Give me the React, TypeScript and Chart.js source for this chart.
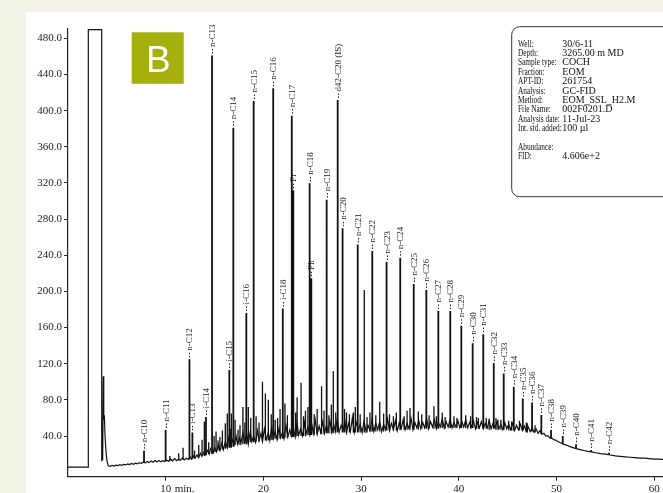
import { useEffect, useRef } from "react";
import { Chart, registerables } from "chart.js";

Chart.register(...registerables);

// ---------- data ----------
const xTicks = [10, 20, 30, 40, 50, 60];
const yTicks = [40, 80, 120, 160, 200, 240, 280, 320, 360, 400, 440, 480];
const xUnit = "min.";

// FID trace (time in min, abundance)
const signal: [number, number][] = [
  [0, 5.5], [2.08, 5.5], [2.08, 489.5], [3.45, 489.5], [3.45, 13], [3.55, 14], [3.61, 106], [3.66, 58],
  [3.72, 63], [3.8, 38], [3.9, 21], [4.0, 12], [4.12, 7],
  [4.3, 6.5], [4.5, 7.5], [4.7, 6.8], [4.9, 7.8], [5.1, 7.2], [5.3, 8.3], [5.5, 7.6], [5.7, 8.6], [5.9, 8],
  [6.1, 9.2], [6.3, 8.4], [6.5, 9.6], [6.7, 8.8], [6.9, 10], [7.1, 9.3], [7.3, 10.4], [7.5, 9.8], [7.7, 11],
  [7.9, 10.3], [8.1, 11.8], [8.3, 10.6], [8.5, 12.4], [8.7, 11], [8.9, 12.8], [9.1, 11.4], [9.3, 13],
  [9.5, 11.6], [9.7, 12.8], [9.9, 11.8], [10.1, 13.4], [10.3, 12], [10.5, 14.6], [10.7, 12.4], [10.9, 15.2],
  [11.1, 12.8], [11.3, 14.4], [11.5, 13.2], [11.7, 15.8], [11.9, 13.6], [12.1, 15.4], [12.3, 14],
  [12.5, 17], [12.65, 14.5], [12.85, 18], [13.0, 15.5], [13.2, 19], [13.35, 16], [13.55, 21], [13.7, 17.5],
  [13.9, 22], [14.05, 19], [14.3, 24], [14.45, 20], [14.6, 26], [14.85, 21], [15.0, 27], [15.2, 22.5],
  [15.4, 30], [15.55, 24], [15.75, 32], [15.9, 25], [16.1, 34], [16.3, 27], [16.45, 38], [16.65, 29],
  [16.8, 36], [17.0, 30], [17.2, 40], [17.35, 31], [17.55, 38], [17.7, 32], [17.9, 44], [18.05, 33],
  [18.3, 42], [18.45, 31], [18.65, 45], [18.8, 34], [19.0, 40], [19.2, 33], [19.4, 46], [19.55, 35],
  [19.75, 43], [19.9, 34], [20.1, 48], [20.3, 36], [20.5, 44], [20.65, 35], [20.85, 50], [21.0, 37],
  [21.2, 45], [21.4, 36], [21.6, 49], [21.75, 38], [21.95, 44], [22.1, 37], [22.3, 52], [22.5, 39],
  [22.7, 47], [22.85, 40], [23.05, 50], [23.25, 39], [23.45, 54], [23.6, 41], [23.8, 48], [24.0, 40],
  [24.2, 55], [24.35, 42], [24.55, 50], [24.75, 41], [24.95, 53], [25.1, 43], [25.3, 58], [25.5, 42],
  [25.7, 51], [25.85, 44], [26.05, 56], [26.25, 43], [26.45, 52], [26.6, 45], [26.8, 57], [27.0, 44],
  [27.2, 53], [27.35, 45], [27.55, 59], [27.75, 44], [27.95, 52], [28.15, 46], [28.35, 56], [28.5, 44],
  [28.7, 54], [28.9, 45], [29.1, 60], [29.3, 44], [29.5, 55], [29.7, 46], [29.9, 53], [30.1, 44],
  [30.3, 57], [30.5, 45], [30.7, 52], [30.9, 46], [31.1, 58], [31.3, 45], [31.5, 54], [31.7, 47],
  [31.9, 56], [32.1, 45], [32.3, 53], [32.5, 47], [32.7, 59], [32.9, 46], [33.1, 54], [33.3, 47],
  [33.5, 57], [33.7, 46], [33.9, 55], [34.1, 48], [34.3, 58], [34.5, 47], [34.7, 54], [34.9, 48],
  [35.1, 60], [35.3, 47], [35.5, 55], [35.7, 49], [35.9, 57], [36.1, 48], [36.3, 55], [36.5, 49],
  [36.7, 59], [36.9, 48], [37.1, 56], [37.3, 50], [37.5, 58], [37.7, 48], [37.9, 55], [38.1, 50],
  [38.3, 59], [38.5, 49], [38.7, 56], [38.9, 50], [39.1, 58], [39.3, 49], [39.5, 55], [39.7, 50],
  [39.9, 57], [40.1, 49], [40.3, 56], [40.5, 50], [40.7, 58], [40.9, 49], [41.1, 55], [41.3, 50],
  [41.5, 57], [41.7, 48], [41.9, 55], [42.1, 49], [42.3, 56], [42.5, 48], [42.7, 54], [42.9, 49],
  [43.1, 57], [43.3, 48], [43.5, 54], [43.7, 49], [43.9, 56], [44.1, 48], [44.3, 53], [44.5, 47],
  [44.7, 55], [44.9, 48], [45.1, 53], [45.3, 47], [45.5, 54], [45.7, 46], [45.9, 52], [46.1, 47],
  [46.3, 53], [46.5, 46], [46.7, 51], [46.9, 45], [47.1, 50], [47.3, 45], [47.5, 49], [47.7, 44],
  [47.9, 48], [48.1, 43], [48.3, 46], [48.5, 42], [48.7, 43], [48.9, 40], [49.1, 40.5], [49.3, 38],
  [49.5, 38], [49.7, 36], [49.9, 35.5], [50.1, 34], [50.4, 32.5], [50.7, 31], [51.0, 30], [51.3, 28.5],
  [51.6, 27.5], [52.0, 26], [52.4, 25], [52.8, 24], [53.2, 23], [53.6, 22.5], [54.0, 21.5], [54.5, 20.5],
  [55.0, 20], [55.5, 19], [56.0, 18], [56.5, 17.5], [57.0, 17], [57.5, 16.5], [58.0, 16], [58.5, 15.5],
  [59.0, 15.5], [59.5, 15], [60.0, 14.5], [60.5, 14.5], [61.0, 14],
];

// labelled peaks
const peakLabels = [
  "n-C10", "n-C11", "n-C12", "i-C13", "i-C14", "n-C13", "i-C15", "n-C14", "i-C16", "n-C15",
  "n-C16", "i-C18", "n-C17", "Pr", "n-C18", "Ph", "n-C19", "d42-C20 (IS)", "n-C20", "n-C21",
  "n-C22", "n-C23", "n-C24", "n-C25", "n-C26", "n-C27", "n-C28", "n-C29", "n-C30", "n-C31",
  "n-C32", "n-C33", "n-C34", "n-C35", "n-C36", "n-C37", "n-C38", "n-C39", "n-C40", "n-C41", "n-C42",
];
const peakTimes = [
  7.78, 9.99, 12.43, 12.73, 14.12, 14.74, 16.51, 16.92, 18.25, 19.0,
  21.0, 21.98, 22.9, 23.06, 24.73, 24.9, 26.47, 27.6, 28.1, 29.65,
  31.14, 32.6, 34.0, 35.38, 36.67, 37.9, 39.12, 40.25, 41.41, 42.5,
  43.57, 44.59, 45.62, 46.54, 47.49, 48.44, 49.43, 50.63, 51.99, 53.53, 55.37,
];
const peakHeights = [
  23.8, 46.7, 125, 44, 61, 461, 113, 381, 176, 410.6,
  424.7, 181, 394.4, 312, 319.6, 214.5, 301.5, 411.8, 269.8, 252,
  244.7, 232.5, 237.3, 208.2, 201.6, 178.3, 178.3, 162, 142.6, 152.7,
  120.7, 109.3, 94.6, 81.5, 77, 63.3, 46.7, 40, 31, 24.5, 21.5,
];
const peakBases = [
  11, 12, 14, 14.5, 19, 20, 27, 28, 31, 33,
  36, 37, 39, 39, 41, 41, 43, 44, 44, 44,
  45, 46, 47, 47, 48, 48, 49, 49, 49, 48,
  48, 47, 46, 46, 45, 42, 37, 31, 26, 22.5, 19.5,
];

// unlabelled peaks
const minorTimes = [
  10.42, 11.33, 11.78, 12.95, 13.38, 13.72, 13.95, 14.4, 14.95, 15.15,
  15.35, 15.55, 15.8, 16.1, 16.3, 16.6, 16.72, 17.1, 17.4, 17.6,
  17.9, 18.1, 18.45, 18.7, 19.25, 19.55, 19.9, 20.2, 20.5, 20.8,
  21.2, 21.45, 21.7, 22.2, 22.45, 23.3, 23.45, 23.85, 24.1, 24.3,
  24.55, 25.2, 25.5, 25.95, 26.2, 26.7, 26.95, 27.15, 27.4, 28.3,
  28.5, 28.8, 29.2, 29.4, 29.9, 30.32, 30.6, 30.9, 31.5, 31.9,
  32.3, 32.9, 33.3, 33.6, 34.4, 34.7, 35.0, 35.85, 36.2, 36.95,
  37.45, 37.7, 38.3, 38.6, 39.5, 39.8, 40.7, 41.2, 41.8, 42.0,
  42.8, 43.1, 43.8, 44.0, 44.3, 45.1, 45.4, 46.2, 46.9, 47.0, 47.8,
];
const minorHeights = [
  18, 21, 27, 24, 30, 36, 56, 33, 40, 45,
  35, 39, 46, 54, 65, 48, 65, 58, 47, 52,
  72, 55, 72, 60, 62, 55, 100, 87, 80, 64,
  58, 60, 70, 76, 63, 66, 83, 99, 62, 68,
  72, 64, 70, 95, 68, 63, 75, 112, 66, 70,
  66, 64, 66, 72, 64, 201.6, 61, 66, 63, 78,
  65, 64, 62, 66, 62, 68, 71, 67, 64, 63,
  73, 62, 66, 61, 62, 60, 63, 62, 61, 60,
  60, 59, 60, 58, 58, 57, 56, 57, 55, 54, 52,
];
const minorBases = [
  12, 13, 13.5, 15, 16, 17.5, 18, 20, 22, 22,
  24, 24, 25, 26, 26.5, 28, 27, 30, 31, 30,
  31, 32, 32, 33, 34, 34, 34, 35, 35, 36,
  37, 36, 37, 38, 38, 39, 40, 40, 40, 40,
  41, 41, 42, 42, 42, 43, 43, 43, 44, 44,
  43, 44, 44, 44, 44, 44, 44, 45, 45, 45,
  45, 46, 46, 46, 47, 47, 47, 47, 48, 48,
  48, 48, 49, 48, 49, 49, 49, 48, 48, 48,
  48, 47, 47, 47, 47, 46, 46, 46, 45, 44, 44,
];

const infoLabels = [
  "Well:", "Depth:", "Sample type:", "Fraction:", "APT-ID:", "Analysis:", "Method:",
  "File Name:", "Analysis date:", "Int. std. added:", "", "Abundance:", "FID:",
];
const infoValues = [
  "30/6-11", "3265.00 m MD", "COCH", "EOM", "261754", "GC-FID", "EOM_SSL_H2.M",
  "002F0201.D", "11-Jul-23", "100 µl", "", "", "4.606e+2",
];
const badgeText = "B";

// ---------- component ----------
const SERIF = '"Liberation Serif", "Times New Roman", serif';

export default function App() {
  const ref = useRef<HTMLCanvasElement | null>(null);

  useEffect(() => {
    const canvas = ref.current;
    if (!canvas) return;

    const traceData = signal.map(([x, y]) => ({ x, y }));
    const peakData: { x: number; y: number | null }[] = [];
    peakTimes.forEach((t, i) => {
      peakData.push({ x: t, y: peakBases[i] }, { x: t, y: peakHeights[i] }, { x: t, y: null });
    });
    const minorData: { x: number; y: number | null }[] = [];
    minorTimes.forEach((t, i) => {
      minorData.push({ x: t, y: minorBases[i] }, { x: t, y: minorHeights[i] }, { x: t, y: null });
    });

    const overlay = {
      id: "overlay",
      afterDraw(chart: any) {
        const { ctx } = chart;
        const xs = chart.scales.x;
        const ys = chart.scales.y;
        ctx.save();
        // peak labels
        ctx.fillStyle = "#222";
        ctx.strokeStyle = "#222";
        ctx.lineWidth = 1;
        ctx.font = `9px ${SERIF}`;
        peakTimes.forEach((t, i) => {
          const px = Math.round(xs.getPixelForValue(t)) + 0.5;
          const py = ys.getPixelForValue(peakHeights[i]);
          ctx.setLineDash([1.5, 1.5]);
          ctx.beginPath();
          ctx.moveTo(px, py - 2);
          ctx.lineTo(px, py - 7);
          ctx.stroke();
          ctx.setLineDash([]);
          ctx.save();
          ctx.translate(px, py - 8.5);
          ctx.rotate(-Math.PI / 2);
          ctx.textAlign = "left";
          ctx.textBaseline = "middle";
          ctx.fillText(peakLabels[i], 0, 0.5);
          ctx.restore();
        });
        // x tick labels
        ctx.font = `11px ${SERIF}`;
        ctx.textAlign = "left";
        ctx.textBaseline = "alphabetic";
        ctx.fillStyle = "#222";
        xTicks.forEach((v) => {
          const px = xs.getPixelForValue(v);
          const s = String(v);
          const w = ctx.measureText(s).width;
          ctx.fillText(s, px - w / 2, 479.5);
          if (v === xTicks[0]) ctx.fillText(xUnit, px + w / 2 + 3.5, 479.5);
        });
        // badge
        ctx.fillStyle = "#a6b00c";
        ctx.fillRect(105.7, 20.3, 52, 51.5);
        ctx.fillStyle = "#ffffff";
        ctx.font = '37px "Liberation Sans", Arial, sans-serif';
        ctx.textAlign = "center";
        ctx.fillText(badgeText, 132.3, 59.6);
        // info box
        ctx.strokeStyle = "#333";
        ctx.lineWidth = 1;
        ctx.beginPath();
        const bx = 485.7, by = 14.7, bw = 240, bh = 170, r = 8;
        ctx.moveTo(bx + r, by);
        ctx.lineTo(bx + bw - r, by);
        ctx.arcTo(bx + bw, by, bx + bw, by + r, r);
        ctx.lineTo(bx + bw, by + bh - r);
        ctx.arcTo(bx + bw, by + bh, bx + bw - r, by + bh, r);
        ctx.lineTo(bx + r, by + bh);
        ctx.arcTo(bx, by + bh, bx, by + bh - r, r);
        ctx.lineTo(bx, by + r);
        ctx.arcTo(bx, by, bx + r, by, r);
        ctx.closePath();
        ctx.fillStyle = "#ffffff";
        ctx.fill();
        ctx.stroke();
        ctx.fillStyle = "#111";
        ctx.textAlign = "left";
        infoLabels.forEach((lab, i) => {
          const yy = 34.7 + i * 9.38;
          if (lab) {
            ctx.font = `10.5px ${SERIF}`;
            ctx.save();
            ctx.translate(492, yy);
            ctx.scale(0.7, 1);
            ctx.fillText(lab, 0, 0);
            ctx.restore();
          }
          if (infoValues[i]) {
            ctx.font = `10px ${SERIF}`;
            ctx.fillText(infoValues[i], 536.3, yy);
          }
        });
        ctx.restore();
      },
    };

    const chart = new Chart(canvas, {
      type: "scatter",
      data: {
        datasets: [
          {
            data: traceData,
            showLine: true,
            borderColor: "#111",
            borderWidth: 1.2,
            pointRadius: 0,
            tension: 0,
          },
          {
            data: minorData,
            showLine: true,
            spanGaps: false,
            borderColor: "#111",
            borderWidth: 1.3,
            pointRadius: 0,
          },
          {
            data: peakData,
            showLine: true,
            spanGaps: false,
            borderColor: "#111",
            borderWidth: 1.8,
            pointRadius: 0,
          },
        ],
      } as any,
      options: {
        animation: false,
        responsive: false,
        maintainAspectRatio: false,
        events: [],
        layout: { padding: { top: 17, left: 0, right: 0, bottom: 0 } },
        plugins: { legend: { display: false }, tooltip: { enabled: false } },
        scales: {
          x: {
            type: "linear",
            min: 0,
            max: 60.89,
            afterBuildTicks: (s: any) => {
              s.ticks = xTicks.map((v) => ({ value: v }));
            },
            afterFit: (s: any) => {
              s.height = 16.3;
            },
            ticks: { display: false },
            grid: { display: true, drawOnChartArea: false, drawTicks: true, tickLength: 4, color: "#222", lineWidth: 1 },
            border: { display: true, color: "#222", width: 1.2 },
          },
          y: {
            type: "linear",
            min: -5,
            max: 490.3,
            afterBuildTicks: (s: any) => {
              s.ticks = yTicks.map((v) => ({ value: v }));
            },
            afterFit: (s: any) => {
              s.width = 42;
            },
            ticks: {
              callback: (v: any) => Number(v).toFixed(1),
              font: { family: SERIF, size: 11 },
              color: "#222",
              padding: 2,
            },
            grid: { display: true, drawOnChartArea: false, drawTicks: true, tickLength: 4, color: "#222", lineWidth: 1 },
            border: { display: true, color: "#222", width: 1.2 },
          },
        },
      } as any,
      plugins: [overlay],
    });
    return () => chart.destroy();
  }, []);

  return (
    <div style={{ position: "fixed", left: 0, top: 0, width: 663, height: 493, background: "#f4f3e8", overflow: "hidden" }}>
      <div style={{ position: "absolute", left: 26, top: 12, width: 637, height: 481, background: "#ffffff" }}>
        <canvas ref={ref} width={637} height={481} style={{ width: 637, height: 481, display: "block" }} />
      </div>
    </div>
  );
}
